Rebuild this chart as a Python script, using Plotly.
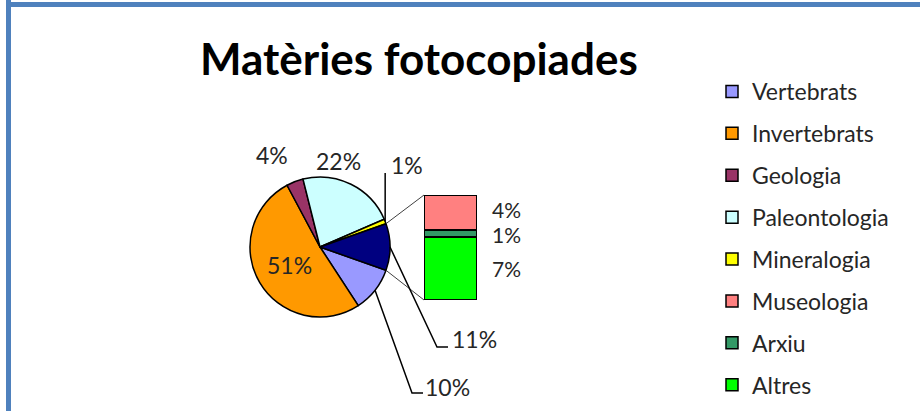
"""
Gràfic "Matèries fotocopiades": pastís amb barra de detall (bar of pie)
"""

import math
import plotly.graph_objects as go

# --- dades ---
pie_labels = ["Vertebrats", "Invertebrats", "Geologia", "Paleontologia", "Mineralogia"]
pie_values = [10.4, 51.4, 3.9, 22.4, 1.1]
pie_colors = ["#9999FF", "#FF9900", "#993366", "#CCFFFF", "#FFFF00"]

bar_labels = ["Museologia", "Arxiu", "Altres"]
bar_values = [3.6, 0.7, 6.5]
bar_colors = ["#FF8080", "#339966", "#00FF00"]

other_label = "Altres (grup)"
other_color = "#000080"

title = "Matèries fotocopiades"

# --- geometria (px) ---
W, H = 920, 411
CX, CY, R = 320, 247, 70          # pastís
BX0, BX1, BY0, BY1 = 424, 477, 195, 300  # barra
FONT = "Lato, 'Open Sans', sans-serif"
TXT = "#262626"

# posició dels rètols i colzes de les línies guia (px)
label_pos = {
    "Vertebrats": (447, 387),
    "Invertebrats": None,  # dins la porció
    "Geologia": (272, 155),
    "Paleontologia": (338, 161),
    "Mineralogia": (407, 165),
    other_label: (474, 339),
}
leader_elbows = {
    "Vertebrats": [(412, 393), (423, 393)],
    "Mineralogia": [(None, 173)],
    other_label: [(437, 347), (448, 347)],
}
bar_label_shift = [3, -1, 0]  # petit ajust vertical (px) dels rètols de la barra


def pct(v, total):
    return f"{math.floor(v / total * 100 + 0.5)}%"


def to_paper(x, y):
    return x / W, 1 - y / H


def pie_point(angle, r=R):
    a = math.radians(angle)
    return CX + r * math.sin(a), CY - r * math.cos(a)


other = sum(bar_values)
all_labels = pie_labels + [other_label]
all_values = pie_values + [other]
total = sum(all_values)
other_deg = other / total * 360
rotation = 90 + other_deg / 2

# angles d'inici/final de cada porció (sentit horari des de les 12)
angles = []
acc = rotation
for v in all_values:
    span = v / total * 360
    angles.append((acc, acc + span))
    acc += span

fig = go.Figure()

fig.add_trace(
    go.Pie(
        labels=all_labels,
        values=all_values,
        sort=False,
        direction="clockwise",
        rotation=rotation,
        marker=dict(colors=pie_colors + [other_color], line=dict(color="black", width=1.5)),
        textinfo="none",
        showlegend=False,
        domain=dict(
            x=[(CX - R) / W, (CX + R) / W],
            y=[1 - (CY + R) / H, 1 - (CY - R) / H],
        ),
    )
)

# barra apilada (de baix a dalt: Altres, Arxiu, Museologia)
for i in reversed(range(len(bar_labels))):
    fig.add_trace(
        go.Bar(
            x=[0],
            y=[bar_values[i]],
            width=1,
            name=bar_labels[i],
            legendgroup=bar_labels[i],
            legendrank=len(pie_labels) + i + 1,
            marker=dict(color=bar_colors[i], line=dict(color="black", width=1.5)),
            xaxis="x2",
            yaxis="y2",
            hoverinfo="name+y",
        )
    )

# entrades de llegenda per a les porcions
for i, name in enumerate(pie_labels):
    fig.add_trace(
        go.Bar(
            x=[None],
            y=[None],
            name=name,
            legendgroup=name,
            legendrank=i + 1,
            marker=dict(color=pie_colors[i], line=dict(color="black", width=1.5)),
            xaxis="x2",
            yaxis="y2",
        )
    )

shapes = []
annotations = []

# vora blava
shapes.append(dict(type="rect", xref="paper", yref="paper", x0=6 / W, x1=11 / W, y0=0, y1=1,
                   fillcolor="#4F81BD", line=dict(width=0), layer="below"))
shapes.append(dict(type="rect", xref="paper", yref="paper", x0=6 / W, x1=1, y0=1 - 7 / H, y1=1 - 2 / H,
                   fillcolor="#4F81BD", line=dict(width=0), layer="below"))

# línies que uneixen la porció agrupada amb la barra
o_start, o_end = angles[-1]
for ang, by in [(o_start, BY0), (o_end, BY1)]:
    px, py = pie_point(ang)
    x0, y0 = to_paper(px, py)
    x1, y1 = to_paper(BX0, by)
    shapes.append(dict(type="line", xref="paper", yref="paper", x0=x0, y0=y0, x1=x1, y1=y1,
                       line=dict(color="#404040", width=1)))

# rètols del pastís amb línies guia
for name, v, (a0, a1) in zip(all_labels, all_values, angles):
    mid = (a0 + a1) / 2
    pos = label_pos.get(name)
    if pos is None:
        pos = pie_point(mid, R * 0.5)
    lx, ly = to_paper(*pos)
    annotations.append(dict(x=lx, y=ly, xref="paper", yref="paper", xanchor="center", yanchor="middle",
                            text=pct(v, total), showarrow=False,
                            font=dict(family=FONT, size=23, color=TXT)))
    if name in leader_elbows:
        sx, sy = pie_point(mid)
        pts = [(sx, sy)] + [(sx if ex is None else ex, ey) for ex, ey in leader_elbows[name]]
        path = "M " + " L ".join(f"{x / W},{1 - y / H}" for x, y in pts)
        shapes.append(dict(type="path", xref="paper", yref="paper", path=path,
                           line=dict(color="black", width=1.5)))

# rètols de la barra
cum = 0
mids = {}
for i in reversed(range(len(bar_labels))):
    mids[i] = cum + bar_values[i] / 2
    cum += bar_values[i]
for i, name in enumerate(bar_labels):
    annotations.append(dict(x=0.5, y=mids[i], xref="x2", yref="y2", xanchor="left", yanchor="middle",
                            xshift=13, yshift=bar_label_shift[i], text=pct(bar_values[i], total),
                            showarrow=False, font=dict(family=FONT, size=21, color=TXT)))

# títol
tx, ty = to_paper(419, 58)
annotations.append(dict(x=tx, y=ty, xref="paper", yref="paper", xanchor="center", yanchor="middle",
                        text=f"<b>{title}</b>", showarrow=False,
                        font=dict(family=FONT, size=44, color="black")))

fig.update_layout(
    width=W,
    height=H,
    margin=dict(l=0, r=0, t=0, b=0, autoexpand=False),
    paper_bgcolor="white",
    plot_bgcolor="rgba(0,0,0,0)",
    barmode="stack",
    xaxis=dict(visible=False),
    yaxis=dict(visible=False),
    xaxis2=dict(domain=[BX0 / W, BX1 / W], range=[-0.5, 0.5], visible=False, fixedrange=True),
    yaxis2=dict(domain=[1 - BY1 / H, 1 - BY0 / H], range=[0, other], visible=False, fixedrange=True),
    shapes=shapes,
    annotations=annotations,
    showlegend=True,
    legend=dict(
        x=712 / W,
        y=1 - 70 / H,
        xanchor="left",
        yanchor="top",
        traceorder="grouped",
        tracegroupgap=9,
        font=dict(family=FONT, size=23, color=TXT),
        bgcolor="rgba(0,0,0,0)",
    ),
)

fig.write_html(
    "out.html",
    config={"displayModeBar": False},
    post_script="document.body.style.margin='0';",
)
